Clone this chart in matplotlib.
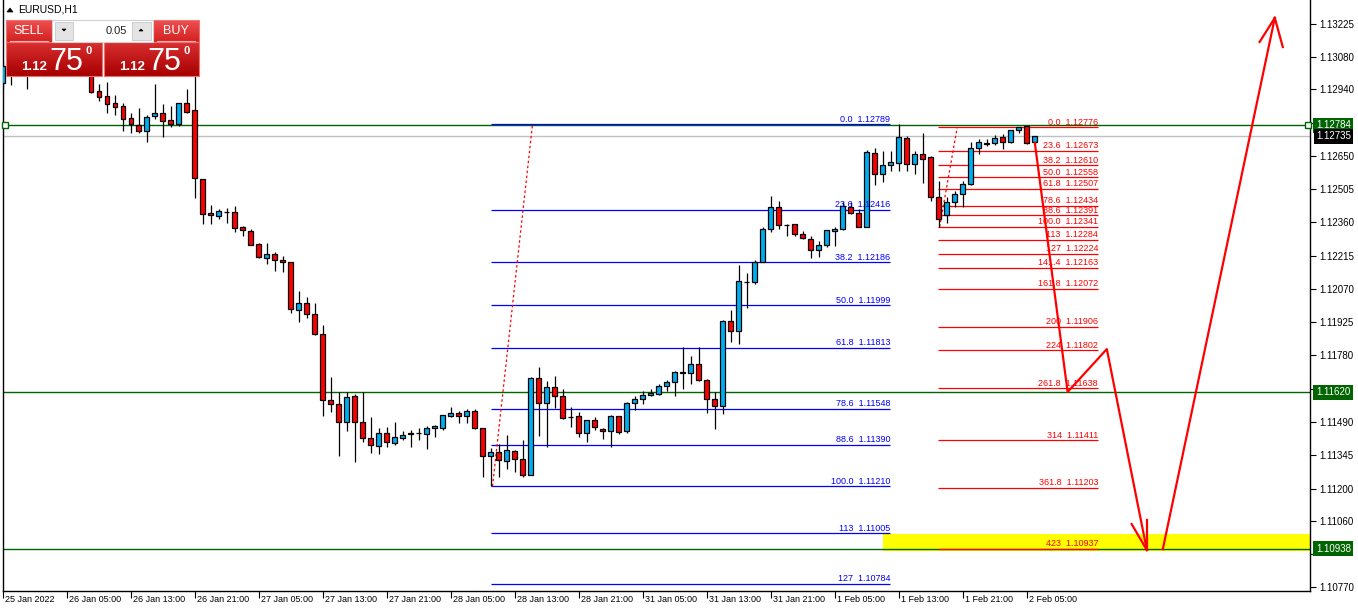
import numpy as np
import matplotlib.pyplot as plt
from matplotlib.patches import Rectangle, Polygon
from matplotlib.colors import LinearSegmentedColormap
from matplotlib.transforms import blended_transform_factory

plt.rcParams['font.family'] = ['Liberation Sans', 'DejaVu Sans']

# EURUSD H1 bars, oldest first (bar 0 = 25 Jan 21:00)
opens = [1.12968, 1.13042, 1.13016, 1.13068, 1.13025, 1.13077, 1.13051, 1.13090, 1.13060, 1.13034,
         1.13068, 1.13025, 1.12933, 1.12911, 1.12881, 1.12868, 1.12816, 1.12786, 1.12760, 1.12824,
         1.12837, 1.12808, 1.12788, 1.12880, 1.12849, 1.12548, 1.12401, 1.12390, 1.12407, 1.12406,
         1.12340, 1.12323, 1.12266, 1.12207, 1.12221, 1.12195, 1.12186, 1.11980, 1.12009, 1.11961,
         1.11872, 1.11585, 1.11567, 1.11489, 1.11603, 1.11489, 1.11419, 1.11384, 1.11442, 1.11397,
         1.11419, 1.11436, 1.11441, 1.11439, 1.11463, 1.11465, 1.11515, 1.11529, 1.11515, 1.11537,
         1.11463, 1.11343, 1.11358, 1.11319, 1.11362, 1.11327, 1.11260, 1.11681, 1.11572, 1.11641,
         1.11602, 1.11513, 1.11515, 1.11441, 1.11498, 1.11458, 1.11450, 1.11515, 1.11450, 1.11572,
         1.11589, 1.11606, 1.11611, 1.11646, 1.11663, 1.11706, 1.11702, 1.11742, 1.11672, 1.11589,
         1.11559, 1.11929, 1.11886, 1.12102, 1.12099, 1.12189, 1.12330, 1.12429, 1.12350, 1.12352,
         1.12308, 1.12288, 1.12239, 1.12261, 1.12322, 1.12330, 1.12426, 1.12400, 1.12342, 1.12662,
         1.12570, 1.12609, 1.12618, 1.12727, 1.12614, 1.12657, 1.12644, 1.12470, 1.12391, 1.12448,
         1.12483, 1.12526, 1.12683, 1.12705, 1.12705, 1.12731, 1.12710, 1.12762, 1.12779, 1.12710]
highs = [1.13060, 1.13077, 1.13103, 1.13090, 1.13112, 1.13121, 1.13134, 1.13112, 1.13086, 1.13094,
         1.13103, 1.13051, 1.12964, 1.12972, 1.12916, 1.12881, 1.12837, 1.12861, 1.12829, 1.12964,
         1.12877, 1.12868, 1.12881, 1.12942, 1.13016, 1.12550, 1.12436, 1.12420, 1.12423, 1.12432,
         1.12346, 1.12332, 1.12271, 1.12269, 1.12231, 1.12214, 1.12188, 1.12061, 1.12035, 1.12009,
         1.11912, 1.11686, 1.11620, 1.11620, 1.11612, 1.11620, 1.11513, 1.11465, 1.11468, 1.11490,
         1.11451, 1.11455, 1.11464, 1.11471, 1.11478, 1.11521, 1.11555, 1.11538, 1.11547, 1.11547,
         1.11464, 1.11375, 1.11393, 1.11432, 1.11368, 1.11410, 1.11688, 1.11729, 1.11668, 1.11689,
         1.11633, 1.11554, 1.11532, 1.11499, 1.11511, 1.11462, 1.11519, 1.11518, 1.11576, 1.11602,
         1.11624, 1.11633, 1.11654, 1.11672, 1.11711, 1.11816, 1.11777, 1.11816, 1.11678, 1.11620,
         1.11935, 1.11977, 1.12173, 1.12138, 1.12196, 1.12342, 1.12477, 1.12452, 1.12355, 1.12353,
         1.12324, 1.12300, 1.12281, 1.12327, 1.12339, 1.12448, 1.12448, 1.12417, 1.12676, 1.12685,
         1.12670, 1.12670, 1.12788, 1.12736, 1.12670, 1.12749, 1.12650, 1.12540, 1.12470, 1.12496,
         1.12540, 1.12710, 1.12723, 1.12723, 1.12740, 1.12744, 1.12765, 1.12776, 1.12781, 1.12737]
lows = [1.12942, 1.12959, 1.12999, 1.12942, 1.13007, 1.13025, 1.13034, 1.13025, 1.13007, 1.13016,
        1.13003, 1.12925, 1.12891, 1.12839, 1.12829, 1.12760, 1.12751, 1.12751, 1.12712, 1.12812,
        1.12734, 1.12778, 1.12782, 1.12839, 1.12468, 1.12352, 1.12352, 1.12374, 1.12356, 1.12320,
        1.12302, 1.12261, 1.12205, 1.12180, 1.12150, 1.12145, 1.11964, 1.11927, 1.11945, 1.11869,
        1.11518, 1.11534, 1.11343, 1.11452, 1.11317, 1.11404, 1.11356, 1.11352, 1.11382, 1.11391,
        1.11410, 1.11382, 1.11413, 1.11374, 1.11426, 1.11456, 1.11514, 1.11487, 1.11487, 1.11461,
        1.11252, 1.11210, 1.11252, 1.11287, 1.11273, 1.11252, 1.11259, 1.11429, 1.11380, 1.11550,
        1.11503, 1.11467, 1.11426, 1.11404, 1.11454, 1.11415, 1.11380, 1.11436, 1.11441, 1.11541,
        1.11567, 1.11602, 1.11606, 1.11624, 1.11602, 1.11633, 1.11654, 1.11669, 1.11528, 1.11458,
        1.11524, 1.11840, 1.11829, 1.11986, 1.12090, 1.12188, 1.12320, 1.12330, 1.12302, 1.12302,
        1.12287, 1.12206, 1.12211, 1.12252, 1.12256, 1.12327, 1.12396, 1.12340, 1.12340, 1.12522,
        1.12535, 1.12583, 1.12583, 1.12583, 1.12570, 1.12531, 1.12452, 1.12341, 1.12356, 1.12426,
        1.12426, 1.12523, 1.12657, 1.12692, 1.12696, 1.12679, 1.12705, 1.12749, 1.12704, 1.12701]
closes = [1.13042, 1.13016, 1.13068, 1.13025, 1.13077, 1.13051, 1.13090, 1.13060, 1.13034, 1.13068,
          1.13025, 1.12929, 1.12908, 1.12878, 1.12865, 1.12812, 1.12789, 1.12760, 1.12820, 1.12837,
          1.12804, 1.12789, 1.12880, 1.12843, 1.12553, 1.12398, 1.12391, 1.12410, 1.12405, 1.12335,
          1.12326, 1.12261, 1.12208, 1.12222, 1.12195, 1.12186, 1.11981, 1.12009, 1.11960, 1.11872,
          1.11585, 1.11570, 1.11489, 1.11599, 1.11489, 1.11419, 1.11389, 1.11442, 1.11402, 1.11423,
          1.11433, 1.11442, 1.11440, 1.11463, 1.11473, 1.11519, 1.11529, 1.11515, 1.11537, 1.11465,
          1.11341, 1.11358, 1.11323, 1.11367, 1.11327, 1.11260, 1.11681, 1.11572, 1.11641, 1.11602,
          1.11506, 1.11512, 1.11441, 1.11498, 1.11467, 1.11450, 1.11515, 1.11445, 1.11572, 1.11589,
          1.11606, 1.11615, 1.11646, 1.11663, 1.11707, 1.11704, 1.11742, 1.11672, 1.11589, 1.11559,
          1.11929, 1.11886, 1.12104, 1.12100, 1.12189, 1.12330, 1.12429, 1.12348, 1.12348, 1.12310,
          1.12291, 1.12239, 1.12261, 1.12326, 1.12330, 1.12431, 1.12400, 1.12342, 1.12666, 1.12570,
          1.12609, 1.12622, 1.12731, 1.12614, 1.12657, 1.12636, 1.12470, 1.12374, 1.12448, 1.12483,
          1.12526, 1.12683, 1.12710, 1.12704, 1.12727, 1.12710, 1.12762, 1.12775, 1.12705, 1.12735]

# time scale, one label every 8 bars
tick_bars = list(range(0, 129, 8))
tick_labels = ['25 Jan 2022', '26 Jan 05:00', '26 Jan 13:00', '26 Jan 21:00', '27 Jan 05:00',
               '27 Jan 13:00', '27 Jan 21:00', '28 Jan 05:00', '28 Jan 13:00', '28 Jan 21:00',
               '31 Jan 05:00', '31 Jan 13:00', '31 Jan 21:00', '1 Feb 05:00', '1 Feb 13:00',
               '1 Feb 21:00', '2 Feb 05:00']

# price scale (labels under the price tags are hidden)
price_ticks = [1.13225, 1.13080, 1.12940, 1.12795, 1.12650, 1.12505, 1.12360, 1.12215, 1.12070,
               1.11925, 1.11780, 1.11635, 1.11490, 1.11345, 1.11200, 1.11060, 1.10915, 1.10770]
hidden_ticks = [1.12795, 1.11635, 1.10915]

# fibo #1 (blue): 1.11210 -> 1.12789
fib1_levels = ['0.0', '23.6', '38.2', '50.0', '61.8', '78.6', '88.6', '100.0', '113', '127']
fib1_prices = [1.12789, 1.12416, 1.12186, 1.11999, 1.11813, 1.11548, 1.11390, 1.11210, 1.11005, 1.10784]
fib1_bars = [61, 110.9]
fib1_trend_bars = [61.2, 66.2]
fib1_trend_prices = [1.11210, 1.12789]

# fibo #2 (red): 1.12341 -> 1.12776
fib2_levels = ['0.0', '23.6', '38.2', '50.0', '61.8', '78.6', '88.6', '100.0', '113', '127',
               '141.4', '161.8', '200', '224', '261.8', '314', '361.8', '423']
fib2_prices = [1.12776, 1.12673, 1.12610, 1.12558, 1.12507, 1.12434, 1.12391, 1.12341, 1.12284, 1.12224,
               1.12163, 1.12072, 1.11906, 1.11802, 1.11638, 1.11411, 1.11203, 1.10937]
fib2_bars = [116.9, 136.9]
fib2_trend_bars = [117.1, 119.3]
fib2_trend_prices = [1.12341, 1.12776]

# horizontal lines and bid
hline_prices = [1.12784, 1.11620, 1.10938]
bid = 1.12735

# target zone
zone_bars = [110, 164]
zone_prices = [1.10928, 1.11002]

# hand drawn projection
leg1_bars = [129, 133.1, 138, 143]
leg1_prices = [1.12707, 1.11621, 1.11808, 1.10932]
head1_bars = [[141.1, 143], [143, 143]]
head1_prices = [[1.11045, 1.10932], [1.11063, 1.10932]]
leg2_bars = [145, 159]
leg2_prices = [1.10936, 1.13252]
head2_bars = [[157.1, 159], [159, 160]]
head2_prices = [[1.13147, 1.13252], [1.13252, 1.13125]]

BLUE_C = '#00AEEF'
RED_C = '#FF0000'
GREEN = '#006400'

W, H = 1358, 611
fig = plt.figure(figsize=(W / 100, H / 100), dpi=100)
fig.patch.set_facecolor('white')
ax = fig.add_axes([3 / W, 20 / H, 1307 / W, 591 / H])
ax.set_xlim(0, 163.4)
ax.set_ylim(1.107532, 1.13330)

# zone and reference lines
ax.add_patch(Rectangle((zone_bars[0], zone_prices[0]), zone_bars[1] - zone_bars[0],
                       zone_prices[1] - zone_prices[0], fc='#FFFF00', ec='none', zorder=0.5))
ax.axhline(bid, color='#C0C0C0', lw=1, zorder=1)
for p in hline_prices:
    ax.axhline(p, color=GREEN, lw=1, zorder=2)
ax.plot([0.25, 163.1], [hline_prices[0]] * 2, 's', ms=4, mfc='white', mec=GREEN, mew=1,
        zorder=6, clip_on=False)

# candles
o, h, l, c = map(np.array, (opens, highs, lows, closes))
x = np.arange(len(o))
up = c >= o
ax.vlines(x, l, h, color='black', lw=0.9, zorder=3)
ax.bar(x, np.maximum(np.abs(c - o), 0.000004), bottom=np.minimum(o, c), width=0.62,
       color=np.where(up, BLUE_C, RED_C), edgecolor='black', linewidth=0.9, zorder=4)

# fibonacci
for lv, p in zip(fib1_levels, fib1_prices):
    ax.hlines(p, fib1_bars[0], fib1_bars[1], color='#0000FF', lw=0.9, zorder=2)
    ax.text(fib1_bars[1], p + 0.00002, f'{lv}  {p:.5f}', ha='right', va='bottom',
            fontsize=6.5, color='#0000FF', zorder=5)
ax.plot(fib1_trend_bars, fib1_trend_prices, color=RED_C, lw=0.9, ls=(0, (2, 2)), zorder=2)
for lv, p in zip(fib2_levels, fib2_prices):
    ax.hlines(p, fib2_bars[0], fib2_bars[1], color=RED_C, lw=0.9, zorder=2)
    ax.text(fib2_bars[1], p + 0.00002, f'{lv}  {p:.5f}', ha='right', va='bottom',
            fontsize=6.5, color=RED_C, zorder=5)
ax.plot(fib2_trend_bars, fib2_trend_prices, color=RED_C, lw=0.9, ls=(0, (2, 2)), zorder=2)

# projection arrows
ax.plot(leg1_bars, leg1_prices, color=RED_C, lw=1.6, zorder=7)
ax.plot(leg2_bars, leg2_prices, color=RED_C, lw=1.6, zorder=7)
for hb, hp in zip(head1_bars + head2_bars, head1_prices + head2_prices):
    ax.plot(hb, hp, color=RED_C, lw=1.6, zorder=7)

# axes styling
for s in ['left', 'bottom', 'right']:
    ax.spines[s].set_color('black')
    ax.spines[s].set_linewidth(1)
ax.spines['top'].set_visible(False)
ax.yaxis.tick_right()
ax.set_yticks(price_ticks)
ax.set_yticklabels(['' if p in hidden_ticks else f'{p:.5f}' for p in price_ticks])
ax.tick_params(axis='y', length=4, width=0.8, pad=3, labelsize=7)
ax.set_xticks(tick_bars)
ax.set_xticklabels([])
ax.tick_params(axis='x', length=5, width=0.8)
tx = blended_transform_factory(ax.transData, ax.transAxes)
for b, lab in zip(tick_bars, tick_labels):
    ax.text(b + 0.3, -0.006, lab, transform=tx, ha='left', va='top', fontsize=6.5, clip_on=False)

# price tags on the scale
ty = blended_transform_factory(ax.transAxes, ax.transData)
for p in hline_prices:
    ax.text(1.0045, p, f'{p:.5f}', transform=ty, ha='left', va='center', fontsize=7, color='white',
            bbox=dict(boxstyle='square,pad=0.25', fc=GREEN, ec='none'), clip_on=False, zorder=10)
ax.text(1.0045, bid, f'{bid:.5f}', transform=ty, ha='left', va='center', fontsize=7, color='white',
        bbox=dict(boxstyle='square,pad=0.22', fc='black', ec='none'), clip_on=False, zorder=10)

# one-click trading panel and symbol caption (screen pixels)
ov = fig.add_axes([0, 0, 1, 1])
ov.axis('off')
ov.set_zorder(5)


def red_box(x0, y0, x1, y1, top, bottom):
    cm = LinearSegmentedColormap.from_list('g', [top, bottom])
    ov.imshow(np.linspace(0, 1, 40).reshape(-1, 1), extent=(x0, x1, y1, y0), cmap=cm,
              aspect='auto', interpolation='bilinear')
    ov.add_patch(Rectangle((x0, y0), x1 - x0, y1 - y0, fill=False, ec='#F07070', lw=0.8))


red_box(6, 20, 52, 42, '#EE5050', '#D42020')
red_box(153, 20, 199, 42, '#EE5050', '#D42020')
red_box(6, 42, 102, 76, '#D83030', '#A80000')
red_box(104, 42, 199, 76, '#D83030', '#A80000')
ov.plot([10, 48], [41, 41], color='#F6B0B0', lw=0.8)
ov.plot([157, 195], [41, 41], color='#F6B0B0', lw=0.8)
ov.add_patch(Rectangle((52, 20), 101, 22, fc='white', ec='#D0D0D0', lw=0.8))
ov.add_patch(Rectangle((55, 22), 18, 18, fc='#E4E4E4', ec='#C8C8C8', lw=0.6))
ov.add_patch(Rectangle((132, 22), 19, 18, fc='#E4E4E4', ec='#C8C8C8', lw=0.6))
ov.add_patch(Polygon([(62, 29), (66, 29), (64, 31)], closed=True, fc='black', ec='black', lw=0.5))
ov.add_patch(Polygon([(139, 31), (143, 31), (141, 29)], closed=True, fc='black', ec='black', lw=0.5))
ov.text(127, 31, '0.05', ha='right', va='center', fontsize=8, color='#222222')
ov.text(29, 31, 'SELL', ha='center', va='center', fontsize=9, color='white')
ov.text(176, 31, 'BUY', ha='center', va='center', fontsize=9, color='white')
for x0 in (6, 104):
    ov.text(x0 + 15, 70, '1.12', ha='left', va='baseline', fontsize=9.5, fontweight='bold', color='white')
    ov.text(x0 + 43, 70, '75', ha='left', va='baseline', fontsize=22, color='white')
    ov.text(x0 + 79, 46, '0', ha='left', va='top', fontsize=8, fontweight='bold', color='white')
ov.add_patch(Polygon([(7, 12), (13, 12), (10, 8)], closed=True, fc='black', ec='black', lw=0.5))
ov.text(18, 10, 'EURUSD,H1', ha='left', va='center', fontsize=7.5, color='black')
ov.set_xlim(0, W)
ov.set_ylim(H, 0)

fig.savefig('out.png', dpi=100, facecolor='white')
